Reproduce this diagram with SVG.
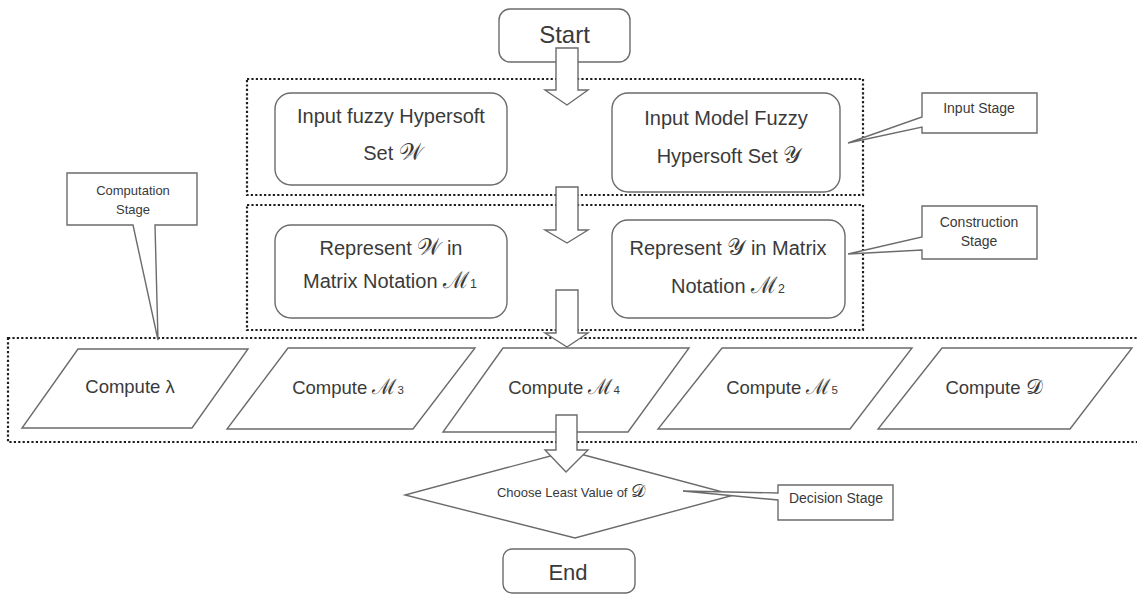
<svg xmlns="http://www.w3.org/2000/svg" width="1137" height="597" viewBox="0 0 1137 597">
<style>
.bg{fill:#ffffff}
.shape{fill:#ffffff;stroke:#6b6b6b;stroke-width:1.4}
.dot{fill:none;stroke:#1e1e1e;stroke-width:2.2;stroke-dasharray:2.2 2.2}
.arrow{fill:#ffffff;stroke:#6b6b6b;stroke-width:1.4;stroke-linejoin:miter}
text{font-family:"Liberation Sans",Arial,sans-serif;fill:#3a3a3a;text-anchor:middle}
.t20{font-size:20px}
.t18{font-size:18.5px}
.tc{font-size:14px}
.tm{font-family:"DejaVu Serif","Liberation Serif",serif;font-size:1.15em}
.sub{font-size:0.62em}
</style>
<rect class="bg" x="0" y="0" width="1137" height="597"/>

<g id="stage-boxes">
<rect class="dot" x="247" y="79" width="616" height="116"/>
<rect class="dot" x="247" y="205" width="616" height="125"/>
<rect class="dot" x="8" y="338" width="1140" height="104"/>
</g>

<g id="start">
<rect class="shape" x="499" y="9" width="131" height="53" rx="11"/>
<text x="564.5" y="43" style="font-size:24px">Start</text>
</g>

<g id="input-w">
<rect class="shape" x="275" y="93" width="232" height="92" rx="16"/>
<text class="t20" x="391" y="123">Input fuzzy Hypersoft</text>
<text class="t20" x="393" y="160">Set <tspan class="tm">𝒲</tspan></text>
</g>

<g id="input-y">
<rect class="shape" x="612" y="93" width="228" height="99" rx="16"/>
<text class="t20" x="726" y="125">Input Model Fuzzy</text>
<text class="t20" x="729" y="163">Hypersoft Set <tspan class="tm">𝒴</tspan></text>
</g>

<g id="represent-w">
<rect class="shape" x="275" y="225" width="232" height="93" rx="16"/>
<text class="t20" x="391" y="255">Represent  <tspan class="tm">𝒲</tspan> in</text>
<text class="t20" x="390" y="288">Matrix Notation <tspan class="tm">ℳ</tspan><tspan class="sub">1</tspan></text>
</g>

<g id="represent-y">
<rect class="shape" x="612" y="220" width="233" height="98" rx="16"/>
<text class="t20" x="728" y="255">Represent <tspan class="tm">𝒴</tspan> in Matrix</text>
<text class="t20" x="728" y="293">Notation <tspan class="tm">ℳ</tspan><tspan class="sub">2</tspan></text>
</g>

<g id="compute-lambda">
<polygon class="shape" points="78,349 248,349 192,428 22,428"/>
<text class="t18" x="130" y="393">Compute λ</text>
</g>

<g id="compute-m3">
<polygon class="shape" points="288,348 475,348 413,429 227,429"/>
<text class="t18" x="348" y="394">Compute <tspan class="tm">ℳ</tspan><tspan class="sub">3</tspan></text>
</g>

<g id="compute-m4">
<polygon class="shape" points="503,348 689,348 628,432 443,432"/>
<text class="t18" x="564" y="394">Compute <tspan class="tm">ℳ</tspan><tspan class="sub">4</tspan></text>
</g>

<g id="compute-m5">
<polygon class="shape" points="722,348 912,348 850,429 658,429"/>
<text class="t18" x="782" y="394">Compute <tspan class="tm">ℳ</tspan><tspan class="sub">5</tspan></text>
</g>

<g id="compute-d">
<polygon class="shape" points="942,348 1132,348 1070,429 878,429"/>
<text class="t18" x="994" y="394">Compute <tspan class="tm">𝒟</tspan></text>
</g>

<g id="decision">
<polygon class="shape" points="569,451 734,495 575,538 405,495"/>
<text x="571" y="497" style="font-size:13px">Choose Least Value of <tspan class="tm" style="font-size:18px">𝒟</tspan></text>
</g>

<g id="end">
<rect class="shape" x="503" y="549" width="132" height="44" rx="9"/>
<text x="568" y="580" style="font-size:22px">End</text>
</g>

<g id="callout-input">
<path class="shape" d="M922,93 H1037 V133 H922 V127 L848,143 L922,117 Z"/>
<text class="tc" x="979" y="113">Input Stage</text>
</g>

<g id="callout-construction">
<path class="shape" d="M922,206 H1037 V259 H922 V250 L848,254 L922,237 Z"/>
<text class="tc" x="979" y="227">Construction</text>
<text class="tc" x="979" y="246">Stage</text>
</g>

<g id="callout-computation">
<path class="shape" d="M67,173 H197 V225 H155 L158,340 L133,225 H67 Z"/>
<text x="133" y="195" style="font-size:13px">Computation</text>
<text x="133" y="214" style="font-size:13px">Stage</text>
</g>

<g id="callout-decision">
<path class="shape" d="M778,485 H893 V520 H778 V500 L683,491 L778,493 Z"/>
<text class="tc" x="836" y="503">Decision Stage</text>
</g>

<g id="connectors">
<path class="arrow" d="M556,48 H578 V90 H588 L567,105 L545,90 H556 Z"/>
<path class="arrow" d="M556,187 H578 V230 H588 L567,243 L545,230 H556 Z"/>
<path class="arrow" d="M556,290 H578 V333 H588 L567,347 L545,333 H556 Z"/>
<path class="arrow" d="M556,415 H577 V450 H588 L566,472 L545,450 H556 Z"/>
</g>
</svg>
